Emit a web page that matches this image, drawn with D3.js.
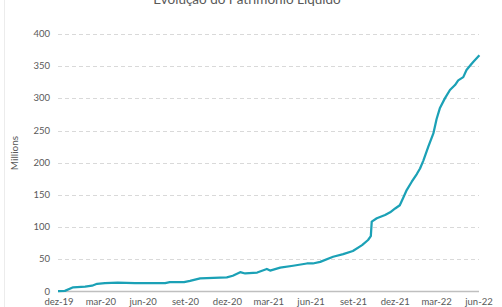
<!DOCTYPE html>
<html>
<head>
<meta charset="utf-8">
<script src="https://cdn.jsdelivr.net/npm/d3@7"></script>
<style>
  body { margin: 0; background: #fff; }
  svg { display: block; font-family: Lato, "Open Sans", sans-serif; }
</style>
</head>
<body>
<div id="chart"></div>
<script>
// patrimonio liquido (millions)
const dates = [
  "2019-12-01","2019-12-16","2020-01-03","2020-01-29","2020-02-13","2020-02-24",
  "2020-03-12","2020-04-09","2020-05-16","2020-07-21","2020-07-31","2020-08-31",
  "2020-09-13","2020-10-05","2020-12-02","2020-12-15","2020-12-31","2021-01-11",
  "2021-02-06","2021-02-27","2021-03-06","2021-03-28","2021-04-25","2021-05-25",
  "2021-06-07","2021-06-23","2021-07-21","2021-08-12","2021-09-02","2021-09-22",
  "2021-10-05","2021-10-11","2021-10-13","2021-10-24","2021-11-11","2021-11-22",
  "2021-12-03","2021-12-13","2021-12-20","2021-12-28","2022-01-08","2022-01-19",
  "2022-01-26","2022-02-02","2022-02-13","2022-02-24","2022-03-03","2022-03-10",
  "2022-03-21","2022-04-01","2022-04-12","2022-04-19","2022-04-30","2022-05-07",
  "2022-05-15","2022-05-22","2022-06-04"
];
const values = [
  0.5, 1, 6.5, 7.5, 9, 12,
  13, 13.7, 13, 13, 14.5, 14.5,
  16.5, 20.5, 22, 24.5, 30, 28,
  29.5, 35, 32.5, 37, 40, 43.5,
  43.5, 46, 54, 58, 63, 72,
  80, 86, 108.5, 113.7, 118.8, 123,
  129, 134, 144.7, 157.6, 170.5, 182.5,
  191, 203, 225, 245.6, 268, 284.5,
  300, 313, 320.7, 328, 333, 344,
  351, 357, 367
];
const yTicks = [0, 50, 100, 150, 200, 250, 300, 350, 400];
const xTicks = ["2019-12-01","2020-03-01","2020-06-01","2020-09-01","2020-12-01",
  "2021-03-01","2021-06-01","2021-09-01","2021-12-01","2022-03-01","2022-06-01"];
const monthNames = ["jan","fev","mar","abr","mai","jun","jul","ago","set","out","nov","dez"];

const width = 502, height = 307;
const parse = d3.timeParse("%Y-%m-%d");
const data = dates.map((d, i) => ({date: parse(d), value: values[i]}));

const svg = d3.select("#chart").append("svg")
    .attr("width", width)
    .attr("height", height);

const x = d3.scaleTime()
    .domain([parse("2019-12-01"), parse("2022-06-01")])
    .range([58, 478]);

const y = d3.scaleLinear()
    .domain([0, 400])
    .range([291.5, 34]);

// faint chart border on the left
svg.append("line")
    .attr("x1", 4.5).attr("x2", 4.5)
    .attr("y1", 0).attr("y2", height)
    .attr("stroke", "#ececec");

// title (cut off at top, as in the original)
svg.append("text")
    .attr("x", 247).attr("y", 4)
    .attr("text-anchor", "middle")
    .attr("font-size", 13.5)
    .attr("fill", "#595959")
    .text("Evolução do Patrimônio Líquido");

// grid
svg.append("g")
    .selectAll("line")
    .data(yTicks.filter(d => d > 0))
    .join("line")
    .attr("x1", 58).attr("x2", 479)
    .attr("y1", d => Math.round(y(d)) + 0.5)
    .attr("y2", d => Math.round(y(d)) + 0.5)
    .attr("stroke", "#d9d9d9")
    .attr("stroke-dasharray", "4,3");

// zero axis line
svg.append("line")
    .attr("x1", 58).attr("x2", 479)
    .attr("y1", y(0)).attr("y2", y(0))
    .attr("stroke", "#bfbfbf")
    .attr("stroke-width", 1.5);

// y labels
svg.append("g")
    .selectAll("text")
    .data(yTicks)
    .join("text")
    .attr("x", 50)
    .attr("y", d => y(d) + 3)
    .attr("text-anchor", "end")
    .attr("font-size", 9.5)
    .attr("fill", "#595959")
    .text(d => d);

// x labels
svg.append("g")
    .selectAll("text")
    .data(xTicks.map(parse))
    .join("text")
    .attr("x", d => x(d) + 1)
    .attr("y", 305)
    .attr("text-anchor", "middle")
    .attr("font-size", 9.5)
    .attr("fill", "#595959")
    .text(d => monthNames[d.getMonth()] + "-" + String(d.getFullYear()).slice(2));

// axis title
svg.append("text")
    .attr("transform", "translate(18,153) rotate(-90)")
    .attr("text-anchor", "middle")
    .attr("font-size", 10)
    .attr("fill", "#595959")
    .text("Millions");

// the series
const line = d3.line()
    .x(d => x(d.date))
    .y(d => y(d.value));

svg.append("path")
    .datum(data)
    .attr("d", line)
    .attr("fill", "none")
    .attr("stroke", "#1ba1b6")
    .attr("stroke-width", 2.25)
    .attr("stroke-linejoin", "round");
</script>
</body>
</html>
